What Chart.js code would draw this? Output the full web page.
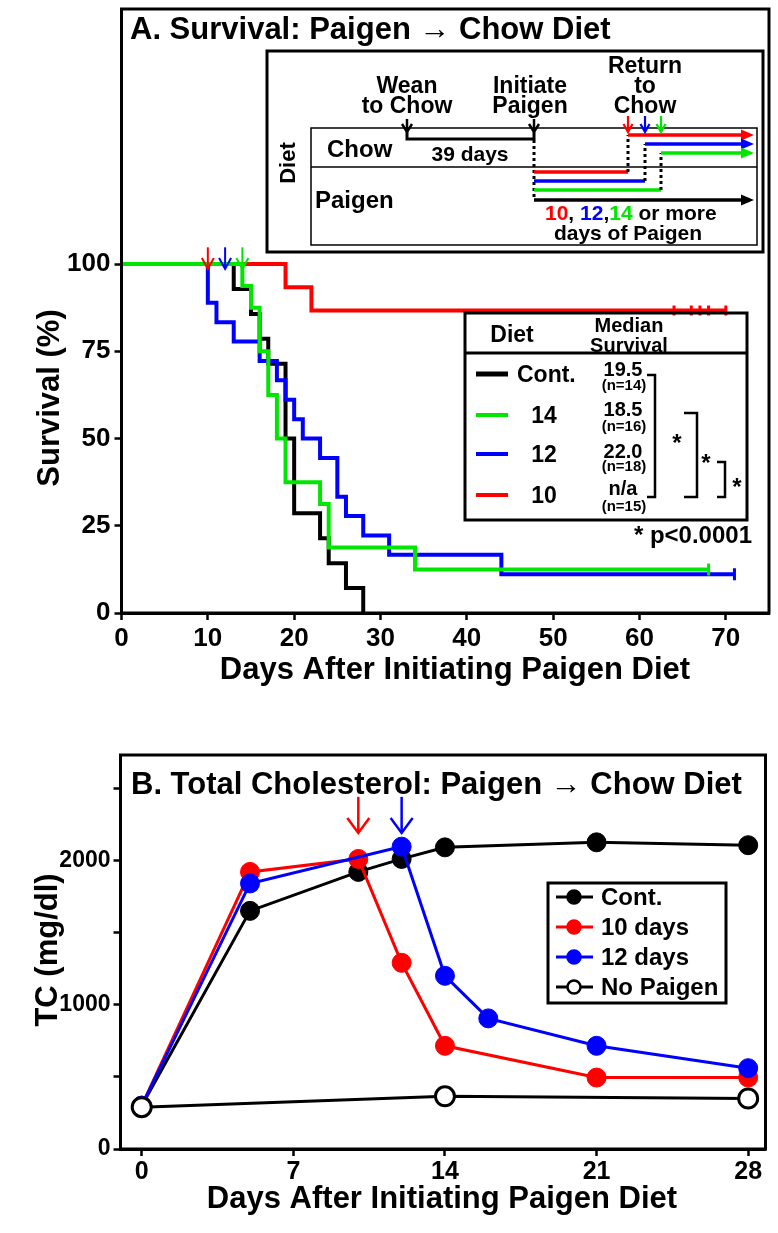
<!DOCTYPE html>
<html><head><meta charset="utf-8">
<script src="https://cdn.jsdelivr.net/npm/chart.js@4.4.1/dist/chart.umd.min.js"></script>
<style>
html,body{margin:0;padding:0;background:#fff;}
#wrap{position:relative;width:778px;height:1233px;overflow:hidden;}
canvas{position:absolute;left:0;}
#cA{top:0;} #cB{top:700px;}
</style></head><body>
<div id="wrap"><canvas id="cA" width="778" height="700"></canvas><canvas id="cB" width="778" height="533"></canvas></div>
<script>
// ---------- Panel A: Kaplan-Meier survival ----------
const survXTicks = [0,10,20,30,40,50,60,70];
const survYTicks = [0,25,50,75,100];
const contDays = [0,13,15,16,17,19,20,23,24,26,28];
const contSurv = [100,92.86,85.71,78.57,71.43,50,28.57,21.43,14.29,7.14,0];
const d14Days = [0,14,15,16,17,18,19,23,24,34,68];
const d14Surv = [100,93.75,87.5,75,62.5,50,37.5,31.25,18.75,12.5,12.5];
const d12Days = [0,10,11,13,16,18,19,20,21,23,25,26,28,31,44,71];
const d12Surv = [100,88.89,83.33,77.78,72.22,66.67,61.11,55.56,50,44.44,33.33,27.78,22.22,16.67,11.11,11.11];
const d10Days = [0,19,22,70];
const d10Surv = [100,93.33,86.67,86.67];
const d10CensorDays = [64,66,67,68,70];
const d14CensorDays = [68];
const d12CensorDays = [71];
const switchDaysA = [10,12,14];
const groupLabels = ['Cont.','14','12','10'];
const medianSurvival = ['19.5','18.5','22.0','n/a'];
const groupN = ['(n=14)','(n=16)','(n=18)','(n=15)'];
// ---------- Panel B: total cholesterol ----------
const tcXTicks = [0,7,14,21,28];
const tcYTicks = [0,500,1000,1500,2000,2500];
const tcContDays = [0,5,10,12,14,21,28];
const tcContVals = [300,1650,1920,2010,2090,2125,2105];
const tc10Days = [0,5,10,12,14,21,28];
const tc10Vals = [300,1920,2010,1290,715,495,495];
const tc12Days = [0,5,12,14,16,21,28];
const tc12Vals = [300,1840,2095,1200,905,715,560];
const tcNoDays = [0,14,28];
const tcNoVals = [290,365,350];
const switchDaysB = [10,12];
const tcLegend = ['Cont.','10 days','12 days','No Paigen'];

const RED='#ff0000', GREEN='#00e600', BLUE='#0000ff', BLACK='#000000';
const FONT='"Liberation Sans", Arial, Helvetica, sans-serif';
const F = (sz)=>`bold ${sz}px ${FONT}`;
Chart.defaults.font.family = FONT;
Chart.defaults.font.weight = 'bold';
Chart.defaults.color = '#000';

function zip(xs, ys){ return xs.map((x,i)=>({x, y: ys[i]})); }
function survAt(days, surv, t){ let v = surv[0]; for (let i=0;i<days.length;i++){ if (days[i] <= t) v = surv[i]; } return v; }

function text(ctx, s, x, y, sz, o={}){
  ctx.save();
  ctx.font = F(sz); ctx.fillStyle = o.color || '#000';
  ctx.textAlign = o.align || 'left'; ctx.textBaseline = o.baseline || 'alphabetic';
  if (o.rotate){ ctx.translate(x,y); ctx.rotate(o.rotate); ctx.fillText(s,0,0); }
  else ctx.fillText(s,x,y);
  ctx.restore();
}
function poly(ctx, pts, lw, color, dash){
  ctx.save(); ctx.beginPath(); ctx.lineWidth = lw; ctx.strokeStyle = color;
  ctx.lineCap = 'butt'; ctx.lineJoin = 'miter';
  if (dash) ctx.setLineDash(dash);
  ctx.moveTo(pts[0][0], pts[0][1]);
  for (let i=1;i<pts.length;i++) ctx.lineTo(pts[i][0], pts[i][1]);
  ctx.stroke(); ctx.restore();
}
function downArrow(ctx, x, y0, y1, color, lw, hw, hl){
  poly(ctx, [[x,y0],[x,y1]], lw, color);
  poly(ctx, [[x-hw,y1-hl],[x,y1],[x+hw,y1-hl]], lw, color);
}
function rightArrow(ctx, x0, x1, y, color, lw, hl, hw){
  poly(ctx, [[x0,y],[x1-hl+1,y]], lw, color);
  ctx.save(); ctx.fillStyle = color; ctx.beginPath();
  ctx.moveTo(x1, y); ctx.lineTo(x1-hl, y-hw); ctx.lineTo(x1-hl, y+hw); ctx.closePath(); ctx.fill(); ctx.restore();
}

function axisCommon(){
  return {
    grid: {display: true, drawOnChartArea: false, drawTicks: true, tickLength: 7, tickWidth: 2.5, tickColor: '#000'},
    border: {display: true, color: '#000', width: 3},
  };
}
function noPadY(w){ return function(s){ s.width = w; s.paddingTop = 0; s.paddingBottom = 0; }; }
function noPadX(h){ return function(s){ s.height = h; s.paddingLeft = 0; s.paddingRight = 0; }; }

// ---------------- Panel A ----------------
const decorA = {
  id: 'decorA',
  afterDraw(chart){
    const {ctx, chartArea: ca, scales: {x, y}} = chart;
    ctx.save(); ctx.lineWidth = 3; ctx.strokeStyle = '#000';
    ctx.strokeRect(ca.left, ca.top, ca.right - ca.left, ca.bottom - ca.top); ctx.restore();
    text(ctx, 'A. Survival: Paigen \u2192 Chow Diet', 130, 39, 31);
    text(ctx, 'Days After Initiating Paigen Diet', 455, 679, 31, {align: 'center'});
    text(ctx, 'Survival (%)', 59, 398, 31, {align: 'center', rotate: -Math.PI/2});
    const arrCols = [RED, BLUE, GREEN];
    switchDaysA.forEach((d,i)=>{
      const px = x.getPixelForValue(d);
      downArrow(ctx, px, y.getPixelForValue(104.8), y.getPixelForValue(98.6), arrCols[i], 2, 6, 11);
    });
    // ---- inset schematic ----
    ctx.save(); ctx.fillStyle = '#fff'; ctx.fillRect(267, 51, 496, 201); ctx.restore();
    ctx.save(); ctx.lineWidth = 3; ctx.strokeStyle = '#000'; ctx.strokeRect(267, 51, 496, 201); ctx.restore();
    ctx.save(); ctx.lineWidth = 1.5; ctx.strokeStyle = '#000'; ctx.strokeRect(311, 128, 446, 117);
    ctx.beginPath(); ctx.moveTo(311, 167); ctx.lineTo(757, 167); ctx.stroke(); ctx.restore();
    text(ctx, 'Diet', 295, 163, 22, {align: 'center', rotate: -Math.PI/2});
    text(ctx, 'Chow', 327, 157, 24);
    text(ctx, 'Paigen', 315, 208, 24);
    text(ctx, 'Wean', 407, 93, 23, {align: 'center'});
    text(ctx, 'to Chow', 407, 113, 23, {align: 'center'});
    text(ctx, 'Initiate', 530, 93, 23, {align: 'center'});
    text(ctx, 'Paigen', 530, 113, 23, {align: 'center'});
    text(ctx, 'Return', 645, 73, 23, {align: 'center'});
    text(ctx, 'to', 645, 93, 23, {align: 'center'});
    text(ctx, 'Chow', 645, 113, 23, {align: 'center'});
    downArrow(ctx, 407, 119, 132, BLACK, 2.5, 5, 8);
    downArrow(ctx, 534, 119, 132, BLACK, 2.5, 5, 8);
    poly(ctx, [[407,132],[407,139],[534,139],[534,132]], 3, BLACK);
    text(ctx, '39 days', 470, 161, 21, {align: 'center'});
    poly(ctx, [[534,140],[534,200]], 3, BLACK, [3,3]);
    const sw = [[RED, 628, 172, 135], [BLUE, 645, 181, 144], [GREEN, 661, 190, 153]];
    sw.forEach(([c, sx, py, cy])=>{
      poly(ctx, [[534,py],[sx,py]], 3.5, c);
      poly(ctx, [[sx,py],[sx,cy]], 3, BLACK, [3,3]);
      rightArrow(ctx, sx, 754, cy, c, 3.5, 13, 5.5);
      downArrow(ctx, sx, 116, 132, c, 2.2, 4.5, 8);
    });
    rightArrow(ctx, 534, 754, 200, BLACK, 3.5, 13, 5.5);
    ctx.save(); ctx.font = F(21);
    let cx = 545;
    [['10', RED], [', ', BLACK], ['12', BLUE], [',', BLACK], ['14', GREEN], [' or more', BLACK]].forEach(([s,c])=>{
      text(ctx, s, cx, 220, 21, {color: c}); cx += ctx.measureText(s).width;
    });
    ctx.restore();
    text(ctx, 'days of Paigen', 628, 240, 21, {align: 'center'});

    // ---- legend table ----
    ctx.save();
    ctx.lineWidth = 3; ctx.strokeStyle = '#000'; ctx.strokeRect(465, 313, 282, 207);
    ctx.beginPath(); ctx.moveTo(465, 353); ctx.lineTo(747, 353); ctx.stroke(); ctx.restore();
    text(ctx, 'Diet', 512, 342, 23, {align: 'center'});
    text(ctx, 'Median', 629, 332, 20, {align: 'center'});
    text(ctx, 'Survival', 629, 352, 20, {align: 'center'});
    const rowY = [374, 415, 454, 495];
    const rowCol = [BLACK, GREEN, BLUE, RED];
    const valBase = [376, 416, 458, 495];
    const nBase = [390, 431, 471, 511];
    groupLabels.forEach((g,i)=>{
      poly(ctx, [[476,rowY[i]],[508,rowY[i]]], i===0?5:4, rowCol[i]);
      if (i===0) text(ctx, g, 517, rowY[i]+8, 23);
      else text(ctx, g, 544, rowY[i]+8, 23, {align: 'center'});
      text(ctx, medianSurvival[i], 623, valBase[i], 20, {align: 'center'});
      text(ctx, groupN[i], 624, nBase[i], 15, {align: 'center'});
    });
    poly(ctx, [[647,375],[655,375],[655,497],[647,497]], 2.5, BLACK);
    poly(ctx, [[684,413],[697,413],[697,497],[684,497]], 2.5, BLACK);
    poly(ctx, [[717,462],[725,462],[725,497],[717,497]], 2.5, BLACK);
    text(ctx, '*', 677, 451, 24, {align: 'center'});
    text(ctx, '*', 706, 471, 24, {align: 'center'});
    text(ctx, '*', 737, 495, 24, {align: 'center'});
    text(ctx, '* p<0.0001', 752, 543, 24, {align: 'right'});
  }
};

const kmLine = (label, days, surv, color, order, lw) => ({
  label, data: zip(days, surv), borderColor: color, backgroundColor: color,
  borderWidth: lw, stepped: true, pointRadius: 0, fill: false, order
});
const censor = (days, sd, ss, color, order, r) => ({
  type: 'scatter', label: 'censored', data: days.map(d=>({x: d, y: survAt(sd, ss, d)})),
  showLine: false, pointStyle: 'line', pointRotation: 90, pointRadius: r, pointHoverRadius: r,
  borderColor: color, pointBorderColor: color, borderWidth: 3, pointBorderWidth: 3, order
});

new Chart(document.getElementById('cA'), {
  type: 'line',
  data: { datasets: [
    kmLine('14', d14Days, d14Surv, GREEN, 0, 4),
    kmLine('10', d10Days, d10Surv, RED, 1, 4),
    kmLine('12', d12Days, d12Surv, BLUE, 2, 4),
    kmLine('Cont.', contDays, contSurv, BLACK, 3, 4),
    censor(d10CensorDays, d10Days, d10Surv, RED, 1, 5),
    censor(d14CensorDays, d14Days, d14Surv, GREEN, 0, 6),
    censor(d12CensorDays, d12Days, d12Surv, BLUE, 2, 6),
  ]},
  options: {
    responsive: false, animation: false, devicePixelRatio: 1,
    layout: {padding: {left: 0, right: 8, top: 7, bottom: 0}},
    plugins: {legend: {display: false}, tooltip: {enabled: false}},
    scales: {
      x: Object.assign(axisCommon(), {
        type: 'linear', min: 0, max: 75,
        afterBuildTicks(s){ s.ticks = survXTicks.map(v=>({value: v})); },
        afterFit: noPadX(87),
        ticks: {font: {size: 26, weight: 'bold', family: FONT}, color: '#000', padding: 3, autoSkip: false, maxRotation: 0},
      }),
      y: Object.assign(axisCommon(), {
        type: 'linear', min: 0, max: 173.1,
        afterBuildTicks(s){ s.ticks = survYTicks.map(v=>({value: v})); },
        afterFit: noPadY(121.5),
        ticks: {font: {size: 26, weight: 'bold', family: FONT}, color: '#000', padding: 4, autoSkip: false},
      }),
    }
  },
  plugins: [decorA]
});

// ---------------- Panel B ----------------
const decorB = {
  id: 'decorB',
  afterDraw(chart){
    const {ctx, chartArea: ca, scales: {x, y}} = chart;
    ctx.save(); ctx.lineWidth = 3; ctx.strokeStyle = '#000';
    ctx.strokeRect(ca.left, ca.top, ca.right - ca.left, ca.bottom - ca.top); ctx.restore();
    text(ctx, 'B. Total Cholesterol: Paigen \u2192 Chow Diet', 131, 94, 31);
    text(ctx, 'Days After Initiating Paigen Diet', 442, 508, 31, {align: 'center'});
    text(ctx, 'TC (mg/dl)', 57, 250, 31, {align: 'center', rotate: -Math.PI/2});
    [RED, BLUE].forEach((c,i)=>{
      const px = x.getPixelForValue(switchDaysB[i]);
      downArrow(ctx, px, y.getPixelForValue(2440), y.getPixelForValue(2190), c, 2.5, 11, 15);
    });
    ctx.save(); ctx.fillStyle = '#fff'; ctx.fillRect(548, 183, 178, 120);
    ctx.lineWidth = 3; ctx.strokeStyle = '#000'; ctx.strokeRect(548, 183, 178, 120); ctx.restore();
    const ly = [197, 227, 257, 287];
    const lc = [BLACK, RED, BLUE, BLACK];
    tcLegend.forEach((s,i)=>{
      poly(ctx, [[556,ly[i]],[593,ly[i]]], 3, lc[i]);
      ctx.save(); ctx.beginPath(); ctx.arc(574, ly[i], 6.5, 0, Math.PI*2);
      ctx.fillStyle = i===3 ? '#fff' : lc[i]; ctx.fill();
      ctx.lineWidth = 2.5; ctx.strokeStyle = lc[i]; ctx.stroke(); ctx.restore();
      text(ctx, s, 601, ly[i]+8, 24);
    });
  }
};

const tcLine = (label, days, vals, color, order, fillCol) => ({
  label, data: zip(days, vals), borderColor: color, backgroundColor: fillCol || color,
  borderWidth: 3, pointRadius: 9.5, pointHoverRadius: 9.5,
  pointBackgroundColor: fillCol || color, pointBorderColor: color, pointBorderWidth: fillCol ? 3 : 1,
  fill: false, tension: 0, order
});

new Chart(document.getElementById('cB'), {
  type: 'line',
  data: { datasets: [
    tcLine('No Paigen', tcNoDays, tcNoVals, BLACK, 0, '#ffffff'),
    tcLine('12 days', tc12Days, tc12Vals, BLUE, 1),
    tcLine('10 days', tc10Days, tc10Vals, RED, 2),
    tcLine('Cont.', tcContDays, tcContVals, BLACK, 3),
  ]},
  options: {
    responsive: false, animation: false, devicePixelRatio: 1,
    layout: {padding: {left: 0, right: 8, top: 55, bottom: 0}},
    plugins: {legend: {display: false}, tooltip: {enabled: false}},
    scales: {
      x: Object.assign(axisCommon(), {
        type: 'linear', min: -0.98, max: 28.8,
        afterBuildTicks(s){ s.ticks = tcXTicks.map(v=>({value: v})); },
        afterFit: noPadX(84),
        ticks: {font: {size: 25, weight: 'bold', family: FONT}, color: '#000', padding: 1, autoSkip: false, maxRotation: 0},
      }),
      y: Object.assign(axisCommon(), {
        type: 'linear', min: 0, max: 2730,
        afterBuildTicks(s){ s.ticks = tcYTicks.map(v=>({value: v})); },
        afterFit: noPadY(120.5),
        ticks: {font: {size: 23, weight: 'bold', family: FONT}, color: '#000', padding: 3, autoSkip: false,
          callback: (v)=> (v % 1000 === 0 ? String(v) : '')},
      }),
    }
  },
  plugins: [decorB]
});
</script>
</body></html>
